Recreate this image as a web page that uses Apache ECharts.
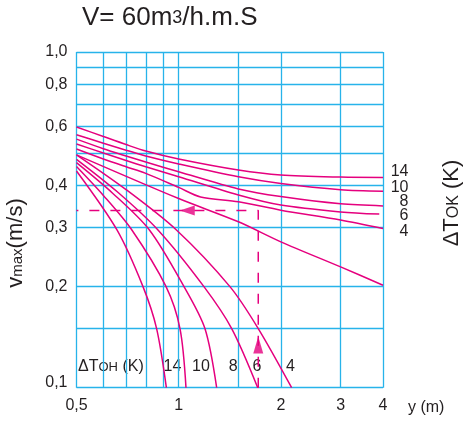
<!DOCTYPE html>
<html><head><meta charset="utf-8">
<script src="https://cdn.jsdelivr.net/npm/echarts@6/dist/echarts.min.js"></script>
<style>html,body{margin:0;padding:0;background:#fff}#c{width:464px;height:426px}</style>
</head><body><div id="c"></div>
<script>
// ---- axis grid / tick data ----
const xGridValues = [0.5, 0.6, 0.7, 0.8, 0.9, 1, 1.5, 2, 3, 4];
const yGridValues = [0.1, 0.15, 0.2, 0.3, 0.4, 0.5, 0.6, 0.7, 0.8, 0.9, 1.0];
const xTickValues = [0.5, 1, 2, 3, 4];
const xTickLabels = ['0,5', '1', '2', '3', '4'];
const yTickValues = [0.1, 0.2, 0.3, 0.4, 0.6, 0.8, 1.0];
const yTickLabels = ['0,1', '0,2', '0,3', '0,4', '0,6', '0,8', '1,0'];

// ---- curve labels ----
const tokLabels = ['14', '10', '8', '6', '4'];
const tohLabels = ['14', '10', '8', '6', '4'];

// ---- ΔTok curves (upper family) [y (m), vmax (m/s)] ----
const tok14 = [[0.5,0.598],[0.6,0.56],[0.7,0.53],[0.8,0.507],[1,0.48],[1.5,0.445],[2,0.43],[3,0.424],[4,0.423]];
const tok10 = [[0.5,0.567],[0.6,0.535],[0.7,0.51],[0.8,0.49],[1,0.464],[1.5,0.425],[2,0.406],[3,0.389],[4,0.385]];
const tok8  = [[0.5,0.55],[0.6,0.515],[0.7,0.49],[0.8,0.47],[1,0.44],[1.5,0.391],[2,0.371],[3,0.353],[4,0.348]];
const tok6  = [[0.5,0.532],[0.6,0.5],[0.7,0.475],[0.8,0.455],[1,0.425],[1.5,0.375],[2,0.35],[3,0.334],[3.9,0.329]];
const tok4  = [[0.5,0.514],[0.6,0.48],[0.7,0.455],[0.8,0.435],[1,0.395],[1.16,0.37],[1.5,0.358],[2,0.338],[3,0.316],[4,0.298]];
// straight limit line
const limitLine = [[0.5,0.494],[1,0.366],[1.5,0.312],[2,0.272],[3,0.229],[4,0.202]];

// ---- ΔToh curves (lower family) ----
const toh14 = [[0.5,0.442],[0.658,0.295],[0.785,0.2],[0.861,0.15],[0.92,0.1]];
const toh10 = [[0.5,0.456],[0.6,0.374],[0.728,0.295],[0.918,0.2],[1.009,0.15],[1.051,0.1]];
const toh8  = [[0.5,0.468],[0.64,0.379],[0.82,0.295],[1.037,0.2],[1.195,0.15],[1.294,0.1]];
const toh6  = [[0.5,0.479],[0.658,0.384],[0.869,0.295],[1.187,0.2],[1.433,0.15],[1.71,0.1]];
const toh4  = [[0.5,0.494],[0.7,0.389],[0.985,0.295],[1.416,0.2],[1.716,0.15],[2.152,0.1]];

// ---- example reading (dashed) ----
const examplePath = [[1.716,0.1],[1.716,0.337],[0.5,0.337]];
const arrowUp = [1.716, 0.134];
const arrowLeft = [1.06, 0.337];

const L = Math.log10;
const tr = arr => arr.map(p => [L(p[0]), L(p[1])]);
const pink = '#e5007e';
const blue = '#27b3ea';
const ink = '#231f20';
const FONT = 'Liberation Sans';

function lookupIdx(vals, v) {
  for (let i = 0; i < vals.length; i++) if (Math.abs(L(vals[i]) - v) < 1e-6) return i;
  return -1;
}

const curveSeries = [tok14, tok10, tok8, tok6, tok4, limitLine, toh14, toh10, toh8, toh6, toh4].map(d => ({
  type: 'line', data: tr(d), symbol: 'none', smooth: 0.3,
  lineStyle: {color: pink, width: 1.5}, silent: true
}));

const chart = echarts.init(document.getElementById('c'), null, {renderer: 'canvas'});
chart.setOption({
  animation: false,
  grid: {left: 76.5, right: 81, top: 52, bottom: 38.3, outerBoundsMode: 'none'},
  xAxis: {
    type: 'value', min: L(0.5), max: L(4),
    axisLine: {show: false},
    axisTick: {show: false, customValues: xGridValues.map(L)},
    splitLine: {show: true, lineStyle: {color: blue, width: 1.3}},
    axisLabel: {customValues: xTickValues.map(L),
      formatter: v => { const i = lookupIdx(xTickValues, v); return i < 0 ? '' : xTickLabels[i]; },
      fontFamily: FONT, fontSize: 16, color: ink, margin: 10}
  },
  yAxis: {
    type: 'value', min: L(0.1), max: L(1.0),
    axisLine: {show: false},
    axisTick: {show: false, customValues: yGridValues.map(L)},
    splitLine: {show: true, lineStyle: {color: blue, width: 1.3}},
    axisLabel: {customValues: yTickValues.map(L),
      formatter: v => { const i = lookupIdx(yTickValues, v); return i < 0 ? '' : (i === 0 ? '{up|' + yTickLabels[i] + '}' : yTickLabels[i]); },
      rich: {up: {fontFamily: FONT, fontSize: 16, color: ink, padding: [0, 0, 10, 0]}},
      fontFamily: FONT, fontSize: 16, color: ink, margin: 9}
  },
  series: curveSeries.concat([
    {type: 'line', data: tr(examplePath), symbol: 'none',
     lineStyle: {color: pink, width: 1.5, type: [10, 11]}, silent: true},
    {type: 'scatter', data: [[L(arrowUp[0]), L(arrowUp[1])]], symbol: 'triangle', symbolSize: [10, 17],
     itemStyle: {color: pink}, silent: true},
    {type: 'scatter', data: [[L(arrowLeft[0]), L(arrowLeft[1])]], symbol: 'triangle', symbolSize: [10, 15],
     symbolRotate: 90, itemStyle: {color: pink}, silent: true}
  ]),
  graphic: [
    {type: 'text', x: 82, y: 18, style: {
      text: '{a|V= 60m}{b|3}{a|/h.m.S}', align: 'left', verticalAlign: 'middle', fill: ink,
      rich: {a: {fontFamily: FONT, fontSize: 26, fill: ink}, b: {fontFamily: FONT, fontSize: 18, fill: ink}}}},
    {type: 'text', x: 16, y: 243, rotation: Math.PI / 2, style: {
      text: '{a|v}{b|max}{a|(m/s)}', align: 'center', verticalAlign: 'middle', fill: ink,
      rich: {a: {fontFamily: FONT, fontSize: 22, fill: ink}, b: {fontFamily: FONT, fontSize: 15, fill: ink, padding: [4, 0, 0, 0]}}}},
    {type: 'text', x: 452, y: 203, rotation: Math.PI / 2, style: {
      text: '{a|ΔT}{b|OK}{a| (K)}', align: 'center', verticalAlign: 'middle', fill: ink,
      rich: {a: {fontFamily: FONT, fontSize: 22, fill: ink}, b: {fontFamily: FONT, fontSize: 16, fill: ink, padding: [4, 0, 0, 0]}}}},
    {type: 'text', x: 78, y: 367, style: {
      text: '{a|ΔT}{b|OH}{a| (K)}', align: 'left', verticalAlign: 'middle', fill: ink,
      rich: {a: {fontFamily: FONT, fontSize: 16, fill: ink}, b: {fontFamily: FONT, fontSize: 13, fill: ink, padding: [1, 0, 0, 0]}}}},
    {type: 'text', x: 408, y: 408, style: {
      text: 'y (m)', align: 'left', verticalAlign: 'middle', fontFamily: FONT, fontSize: 16, fill: ink}}
  ].concat(
    tokLabels.map((t, i) => ({type: 'text', x: 408.5, y: [172, 188, 202, 216, 232][i],
      style: {text: t, align: 'right', verticalAlign: 'middle', fontFamily: FONT, fontSize: 16, fill: ink}}))
  ).concat(
    tohLabels.map((t, i) => ({type: 'text', x: [172.5, 201, 233.3, 257, 290.5][i], y: 367,
      style: {text: t, align: 'center', verticalAlign: 'middle', fontFamily: FONT, fontSize: 16, fill: ink}}))
  )
});
</script>
</body></html>
